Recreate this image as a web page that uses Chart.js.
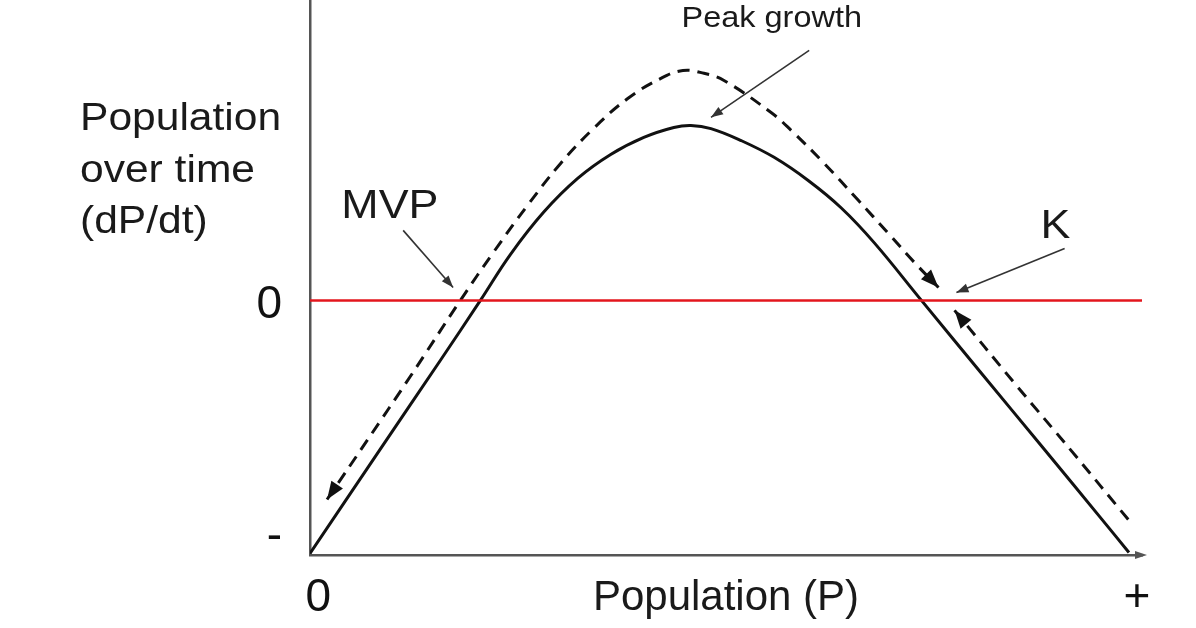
<!DOCTYPE html>
<html>
<head>
<meta charset="utf-8">
<script src="https://cdn.jsdelivr.net/npm/chart.js@4.4.1/dist/chart.umd.min.js"></script>
<style>
  html, body { margin: 0; padding: 0; background: #fff; }
  #wrap { width: 1196px; height: 628px; }
</style>
</head>
<body>
<div id="wrap"><canvas id="growthChart"></canvas></div>
<script>
// dP/dt curve (solid line)
var solidX = [0, 8.43, 15.66, 20.48, 24.10, 28.07, 32.17, 36.14, 40.12, 43.73, 45.78, 48.19, 51.81, 55.78, 59.88, 63.86, 67.83, 73.49, 80.72, 87.95, 95.18, 98.43];
var solidY = [-99.4, -58.5, -23.6, 0, 18.1, 34.6, 47.9, 57.3, 64.0, 67.9, 68.7, 67.5, 62.8, 56.2, 47.1, 36.3, 22.6, 0, -28.7, -57.3, -86.0, -99.0];

// dashed path over the top: arrow at both ends
var dashTopX = [2.05, 6.87, 12.05, 18.07, 22.05, 26.14, 30.12, 34.10, 38.19, 42.17, 44.82, 47.35, 49.76, 55.42, 57.83, 61.81, 65.90, 69.52, 72.65, 75.54];
var dashTopY = [-78.2, -55.0, -29.9, 0, 18.9, 37.3, 53.8, 67.6, 79.3, 87.2, 90.3, 89.2, 86.4, 73.8, 66.8, 53.8, 39.3, 26.3, 14.9, 5.1];

// dashed path coming back up to K: arrow at start
var dashLowX = [77.47, 84.70, 91.57, 98.43];
var dashLowY = [-3.9, -32.6, -59.3, -86.4];

// zero line
var zeroX = [0, 100];
var zeroY = [0, 0];

// axis tick labels
var xTickValues = [1, 99.4];
var xTickLabels = ['0', '+'];
var yTickValues = [-93, -2];
var yTickLabels = ['-', '0'];

var yTitleLines = ['Population', 'over time', '(dP/dt)'];

// labels with pointer arrows (data units)
var noteText = ['Peak growth', 'MVP', 'K'];
var noteX = [55.5, 9.6, 89.6];
var noteY = [107.2, 32.2, 24.7];
var pointerFromX = [60.0, 11.2, 90.7];
var pointerFromY = [98.2, 27.5, 20.4];
var pointerToX = [48.2, 17.2, 77.7];
var pointerToY = [71.9, 5.1, 3.1];

function toPoints(xs, ys) {
    var pts = [];
    for (var i = 0; i < xs.length; i++) pts.push({ x: xs[i], y: ys[i] });
    return pts;
}

function arrowHead(ctx, tipX, tipY, fromX, fromY, len, half) {
    var a = Math.atan2(tipY - fromY, tipX - fromX);
    ctx.beginPath();
    ctx.moveTo(tipX, tipY);
    ctx.lineTo(tipX - len * Math.cos(a) + half * Math.sin(a), tipY - len * Math.sin(a) - half * Math.cos(a));
    ctx.lineTo(tipX - len * Math.cos(a) - half * Math.sin(a), tipY - len * Math.sin(a) + half * Math.cos(a));
    ctx.closePath();
    ctx.fill();
}

function stretchedText(ctx, text, x, y, sx) {
    ctx.save();
    ctx.translate(x, y);
    ctx.scale(sx, 1);
    ctx.fillText(text, 0, 0);
    ctx.restore();
}

var FONT = '"Liberation Sans", Arial, sans-serif';

var extrasPlugin = {
    id: 'extras',
    afterDatasetsDraw: function (chart) {
        var ctx = chart.ctx;
        var xs = chart.scales.x, ys = chart.scales.y;
        ctx.save();

        // arrowheads on the dashed paths
        ctx.fillStyle = '#111';
        chart.data.datasets.forEach(function (ds, i) {
            var pts = chart.getDatasetMeta(i).data;
            if (ds.arrowStart) arrowHead(ctx, pts[0].x, pts[0].y, pts[1].x, pts[1].y, 18, 7);
            if (ds.arrowEnd) {
                var n = pts.length;
                arrowHead(ctx, pts[n - 1].x, pts[n - 1].y, pts[n - 2].x, pts[n - 2].y, 18, 7);
            }
        });

        // pointer lines and labels
        ctx.lineWidth = 1.6;
        for (var i = 0; i < noteText.length; i++) {
            var fx = xs.getPixelForValue(pointerFromX[i]), fy = ys.getPixelForValue(pointerFromY[i]);
            var tx = xs.getPixelForValue(pointerToX[i]), ty = ys.getPixelForValue(pointerToY[i]);
            ctx.strokeStyle = '#333';
            ctx.fillStyle = '#333';
            ctx.beginPath();
            ctx.moveTo(fx, fy);
            ctx.lineTo(tx, ty);
            ctx.stroke();
            arrowHead(ctx, tx, ty, fx, fy, 12, 4.5);

            ctx.fillStyle = '#1a1a1a';
            ctx.font = (i === 0 ? 29 : 40) + 'px ' + FONT;
            ctx.textAlign = 'center';
            ctx.textBaseline = 'alphabetic';
            stretchedText(ctx, noteText[i], xs.getPixelForValue(noteX[i]), ys.getPixelForValue(noteY[i]), 1.12);
        }
        ctx.restore();
    },
    afterDraw: function (chart) {
        var ctx = chart.ctx;
        var area = chart.chartArea;
        ctx.save();

        // arrow at the end of the x axis
        ctx.fillStyle = '#555';
        arrowHead(ctx, area.right + 5, area.bottom, area.right - 5, area.bottom, 12, 4);

        // horizontal y axis title
        ctx.fillStyle = '#1a1a1a';
        ctx.font = '38px ' + FONT;
        ctx.textAlign = 'left';
        ctx.textBaseline = 'alphabetic';
        for (var i = 0; i < yTitleLines.length; i++) {
            stretchedText(ctx, yTitleLines[i], 80, area.top + 130 + i * 51.5, 1.12);
        }
        ctx.restore();
    }
};

var chartCanvas = document.getElementById('growthChart').getContext('2d');

var growthChart = new Chart(chartCanvas, {
    type: 'line',
    data: {
        datasets: [{
            data: toPoints(zeroX, zeroY),
            borderColor: '#e3161d',
            borderWidth: 2.5,
            pointRadius: 0
        }, {
            data: toPoints(solidX, solidY),
            borderColor: '#111',
            borderWidth: 3,
            pointRadius: 0,
            tension: 0.4
        }, {
            data: toPoints(dashTopX, dashTopY),
            borderColor: '#111',
            borderWidth: 3,
            borderDash: [12, 8],
            pointRadius: 0,
            tension: 0.4,
            arrowStart: true,
            arrowEnd: true
        }, {
            data: toPoints(dashLowX, dashLowY),
            borderColor: '#111',
            borderWidth: 3,
            borderDash: [12, 8],
            pointRadius: 0,
            tension: 0.4,
            arrowStart: true
        }]
    },
    options: {
        responsive: true,
        maintainAspectRatio: false,
        animation: false,
        layout: { padding: { left: 0, top: 0, right: 54, bottom: 0 } },
        plugins: {
            legend: { display: false },
            tooltip: { enabled: false }
        },
        scales: {
            x: {
                type: 'linear',
                min: 0,
                max: 100,
                grid: { display: false },
                border: { display: true, color: '#555', width: 2.5 },
                afterBuildTicks: function (scale) {
                    scale.ticks = xTickValues.map(function (v) { return { value: v }; });
                },
                afterFit: function (scale) {
                    scale.height = 73;
                    scale.paddingLeft = 0;
                    scale.paddingRight = 0;
                },
                ticks: {
                    autoSkip: false,
                    maxRotation: 0,
                    padding: 8,
                    color: '#111',
                    font: { family: FONT, size: 46 },
                    callback: function (v) { return xTickLabels[xTickValues.indexOf(v)]; }
                },
                title: {
                    display: true,
                    text: 'Population (P)',
                    color: '#1a1a1a',
                    font: { family: FONT, size: 42 },
                    padding: { top: 0, bottom: 4 }
                }
            },
            y: {
                type: 'linear',
                min: -100,
                max: 118,
                grid: { display: false },
                border: { display: true, color: '#555', width: 2.5 },
                afterBuildTicks: function (scale) {
                    scale.ticks = yTickValues.map(function (v) { return { value: v }; });
                },
                afterFit: function (scale) {
                    scale.width = 310;
                    scale.paddingTop = 0;
                    scale.paddingBottom = 0;
                },
                ticks: {
                    autoSkip: false,
                    padding: 20,
                    color: '#111',
                    font: { family: FONT, size: 46 },
                    callback: function (v) { return yTickLabels[yTickValues.indexOf(v)]; }
                }
            }
        }
    },
    plugins: [extrasPlugin]
});
</script>
</body>
</html>
